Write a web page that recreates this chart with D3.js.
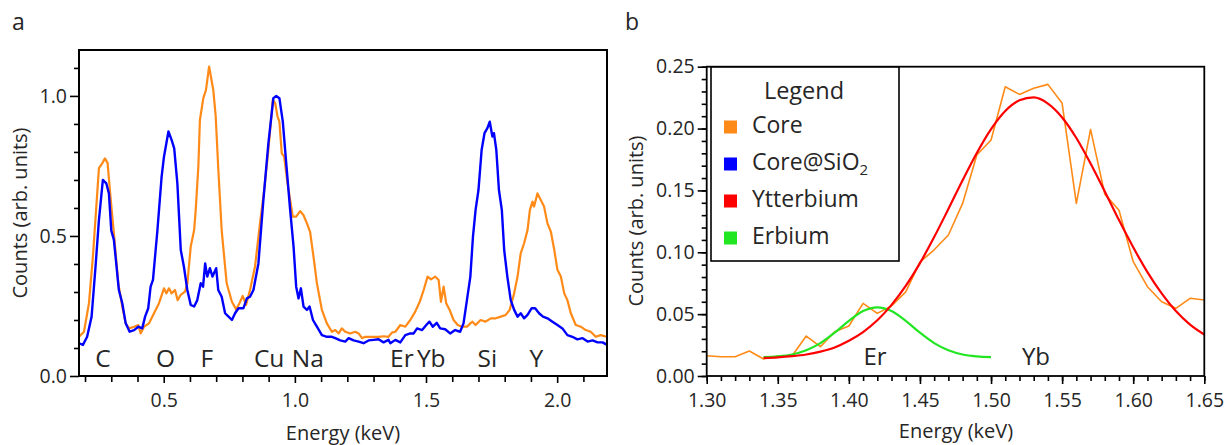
<!DOCTYPE html>
<html><head><meta charset="utf-8">
<script src="https://cdn.jsdelivr.net/npm/d3@7"></script>
<style>
body{margin:0;background:#fff}
svg{display:block}
text{font-family:"Open Sans",sans-serif;fill:#262626}
</style>
</head><body>
<svg id="chart" width="1229" height="445"></svg>
<script>
// ---------- Panel a data: [energy keV, counts] ----------
const coreA = [[0.177,0.14],[0.196,0.158],[0.215,0.26],[0.230,0.426],[0.243,0.605],[0.253,0.742],[0.266,0.76],[0.276,0.777],[0.286,0.76],[0.298,0.629],[0.31,0.51],[0.327,0.33],[0.342,0.248],[0.355,0.188],[0.368,0.17],[0.387,0.176],[0.403,0.182],[0.412,0.152],[0.425,0.176],[0.444,0.188],[0.463,0.224],[0.482,0.26],[0.501,0.313],[0.510,0.295],[0.520,0.313],[0.530,0.295],[0.543,0.307],[0.553,0.271],[0.565,0.29],[0.581,0.301],[0.590,0.33],[0.603,0.462],[0.616,0.521],[0.622,0.593],[0.632,0.748],[0.638,0.914],[0.651,0.992],[0.661,1.021],[0.673,1.105],[0.689,1.021],[0.698,0.93],[0.708,0.74],[0.721,0.52],[0.740,0.331],[0.760,0.265],[0.776,0.238],[0.789,0.26],[0.801,0.286],[0.814,0.254],[0.829,0.307],[0.848,0.39],[0.867,0.545],[0.883,0.664],[0.899,0.807],[0.916,0.986],[0.925,0.974],[0.934,0.926],[0.941,0.908],[0.950,0.795],[0.959,0.783],[0.972,0.688],[0.982,0.629],[0.992,0.569],[1.005,0.569],[1.020,0.589],[1.033,0.574],[1.046,0.545],[1.058,0.515],[1.071,0.426],[1.084,0.331],[1.103,0.236],[1.122,0.188],[1.141,0.158],[1.154,0.164],[1.167,0.152],[1.179,0.17],[1.192,0.158],[1.211,0.152],[1.230,0.158],[1.243,0.152],[1.256,0.135],[1.268,0.14],[1.294,0.14],[1.319,0.14],[1.338,0.142],[1.357,0.14],[1.370,0.155],[1.383,0.158],[1.402,0.182],[1.421,0.176],[1.440,0.2],[1.459,0.23],[1.476,0.265],[1.491,0.307],[1.506,0.355],[1.519,0.345],[1.535,0.355],[1.548,0.343],[1.557,0.265],[1.567,0.319],[1.577,0.26],[1.590,0.236],[1.605,0.2],[1.621,0.182],[1.637,0.176],[1.656,0.176],[1.669,0.188],[1.677,0.194],[1.689,0.182],[1.708,0.2],[1.727,0.194],[1.747,0.206],[1.766,0.206],[1.785,0.212],[1.804,0.218],[1.819,0.236],[1.836,0.295],[1.849,0.355],[1.861,0.438],[1.874,0.474],[1.887,0.521],[1.896,0.593],[1.906,0.623],[1.912,0.605],[1.925,0.652],[1.937,0.629],[1.950,0.605],[1.963,0.545],[1.976,0.515],[1.989,0.45],[2.001,0.379],[2.014,0.355],[2.027,0.295],[2.039,0.271],[2.052,0.224],[2.071,0.182],[2.090,0.176],[2.109,0.164],[2.128,0.158],[2.147,0.14],[2.166,0.146],[2.19,0.14]];
const shellA = [[0.177,0.117],[0.192,0.111],[0.208,0.14],[0.225,0.212],[0.240,0.39],[0.253,0.557],[0.268,0.70],[0.281,0.688],[0.291,0.652],[0.300,0.52],[0.31,0.486],[0.329,0.307],[0.342,0.26],[0.355,0.188],[0.370,0.158],[0.387,0.164],[0.403,0.176],[0.418,0.17],[0.429,0.212],[0.441,0.242],[0.450,0.319],[0.459,0.343],[0.476,0.521],[0.492,0.712],[0.501,0.783],[0.518,0.873],[0.530,0.843],[0.540,0.813],[0.552,0.688],[0.565,0.45],[0.577,0.39],[0.590,0.307],[0.603,0.254],[0.616,0.248],[0.628,0.271],[0.641,0.331],[0.650,0.319],[0.658,0.402],[0.666,0.355],[0.676,0.385],[0.686,0.355],[0.700,0.385],[0.708,0.307],[0.721,0.283],[0.734,0.224],[0.747,0.212],[0.760,0.2],[0.772,0.224],[0.785,0.242],[0.804,0.242],[0.817,0.277],[0.829,0.283],[0.842,0.307],[0.861,0.402],[0.880,0.629],[0.899,0.831],[0.918,0.992],[0.929,1.0],[0.941,0.992],[0.954,0.908],[0.967,0.76],[0.982,0.593],[0.995,0.462],[1.005,0.319],[1.014,0.277],[1.023,0.313],[1.033,0.248],[1.046,0.236],[1.056,0.248],[1.069,0.2],[1.084,0.176],[1.103,0.146],[1.122,0.14],[1.141,0.14],[1.154,0.135],[1.173,0.127],[1.192,0.123],[1.205,0.135],[1.224,0.127],[1.243,0.123],[1.262,0.117],[1.281,0.127],[1.300,0.129],[1.319,0.131],[1.338,0.12],[1.357,0.129],[1.364,0.117],[1.383,0.129],[1.402,0.12],[1.421,0.146],[1.440,0.152],[1.453,0.152],[1.466,0.17],[1.485,0.164],[1.501,0.182],[1.513,0.194],[1.526,0.176],[1.541,0.19],[1.554,0.17],[1.573,0.167],[1.592,0.152],[1.611,0.164],[1.630,0.158],[1.643,0.188],[1.656,0.271],[1.669,0.355],[1.679,0.498],[1.689,0.593],[1.700,0.664],[1.712,0.807],[1.723,0.867],[1.734,0.885],[1.743,0.908],[1.753,0.855],[1.759,0.867],[1.768,0.807],[1.778,0.664],[1.789,0.593],[1.798,0.45],[1.810,0.355],[1.823,0.271],[1.836,0.236],[1.849,0.212],[1.861,0.224],[1.874,0.206],[1.887,0.218],[1.903,0.242],[1.916,0.242],[1.931,0.224],[1.946,0.212],[1.963,0.206],[1.982,0.194],[2.001,0.182],[2.020,0.17],[2.039,0.146],[2.058,0.14],[2.077,0.131],[2.097,0.135],[2.116,0.123],[2.135,0.127],[2.154,0.12],[2.173,0.12],[2.19,0.111]];
const elementNamesA = ["C","O","F","Cu","Na","Er","Yb","Si","Y"];
const elementEnergyA = [0.268,0.507,0.664,0.902,1.049,1.408,1.520,1.734,1.921];
const xMajorA = [0.5,1.0,1.5,2.0];
const xMinorA = [0.2,0.3,0.4,0.6,0.7,0.8,0.9,1.1,1.2,1.3,1.4,1.6,1.7,1.8,1.9,2.1];
const yMajorA = [0.0,0.5,1.0];
const yMinorA = [0.1,0.2,0.3,0.4,0.6,0.7,0.8,0.9,1.1];

// ---------- Panel b data ----------
const energyB = [1.30,1.31,1.32,1.33,1.34,1.35,1.36,1.37,1.38,1.39,1.40,1.41,1.42,1.43,1.44,1.45,1.46,1.47,1.48,1.49,1.50,1.51,1.52,1.53,1.54,1.55,1.56,1.57,1.58,1.59,1.60,1.61,1.62,1.63,1.64,1.65];
const coreB = [0.0164,0.0156,0.0156,0.0202,0.0137,0.0162,0.0162,0.0323,0.0237,0.0358,0.0404,0.0587,0.0506,0.0566,0.068,0.092,0.102,0.114,0.1395,0.1786,0.1907,0.2338,0.2276,0.2325,0.2357,0.2204,0.1395,0.1993,0.147,0.134,0.0924,0.0722,0.060,0.0547,0.0628,0.0614];
const energyYb = [1.34,1.35,1.36,1.37,1.38,1.39,1.40,1.41,1.42,1.43,1.44,1.45,1.46,1.47,1.48,1.49,1.50,1.51,1.52,1.53,1.54,1.55,1.56,1.57,1.58,1.59,1.60,1.61,1.62,1.63,1.64,1.65];
const ytterbiumB = [0.0146,0.0151,0.0160,0.0174,0.0197,0.0231,0.0285,0.0355,0.0450,0.0575,0.0728,0.0912,0.1123,0.1350,0.1582,0.1802,0.1995,0.2142,0.2228,0.2252,0.2202,0.2090,0.1924,0.1718,0.1492,0.1260,0.1040,0.0840,0.0668,0.0525,0.0415,0.0335];
const energyEr = [1.34,1.35,1.36,1.37,1.38,1.39,1.40,1.41,1.42,1.43,1.44,1.45,1.46,1.47,1.48,1.49,1.50];
const erbiumB = [0.0153,0.0159,0.0174,0.0208,0.0266,0.0350,0.0446,0.0525,0.0555,0.0525,0.0446,0.0350,0.0266,0.0208,0.0174,0.0159,0.0153];
const peakNamesB = ["Er","Yb"];
const peakEnergyB = [1.4184,1.5316];
const xTicksB = [1.30,1.35,1.40,1.45,1.50,1.55,1.60,1.65];
const yTicksB = [0.00,0.05,0.10,0.15,0.20,0.25];
const legendNames = ["Core","Core@SiO","Ytterbium","Erbium"];
const colors = {core:"#ff8a17", shell:"#0000ff", yb:"#ff0000", er:"#22e622"};

const svg = d3.select("#chart");

// ================= Panel a =================
const xa = d3.scaleLinear().domain([0.177, 2.19]).range([79, 607]);
const ya = d3.scaleLinear().domain([0, 1.164]).range([376, 50]);
const ga = svg.append("g");

function minorTicks(g, axis){ g.call(axis); g.select(".domain").remove(); g.selectAll(".tick line").attr("stroke","#000").attr("stroke-width",1.6); }

ga.append("g").attr("transform","translate(0,376)")
  .call(g=>minorTicks(g, d3.axisBottom(xa).tickValues(xMinorA).tickSize(6).tickFormat("")));
ga.append("g").attr("transform","translate(0,376)")
  .call(g=>minorTicks(g, d3.axisBottom(xa).tickValues(xMajorA).tickSize(7).tickPadding(10).tickFormat(d3.format(".1f"))));
ga.append("g").attr("transform","translate(79,0)")
  .call(g=>minorTicks(g, d3.axisLeft(ya).tickValues(yMinorA).tickSize(5).tickFormat("")));
ga.append("g").attr("transform","translate(79,0)")
  .call(g=>minorTicks(g, d3.axisLeft(ya).tickValues(yMajorA).tickSize(9).tickPadding(3).tickFormat(d3.format(".1f"))));
ga.selectAll(".tick text").attr("font-size",19.5).attr("font-family","Open Sans").attr("fill","#262626");

const lineA = d3.line().x(d=>xa(d[0])).y(d=>ya(d[1]));
ga.append("path").datum(coreA).attr("d",lineA).attr("fill","none").attr("stroke",colors.core).attr("stroke-width",2.2).attr("stroke-linejoin","round");
ga.append("path").datum(shellA).attr("d",lineA).attr("fill","none").attr("stroke",colors.shell).attr("stroke-width",2.4).attr("stroke-linejoin","round");

ga.append("rect").attr("x",79).attr("y",50).attr("width",528).attr("height",326)
  .attr("fill","none").attr("stroke","#000").attr("stroke-width",2);

ga.selectAll(".elem").data(elementNamesA).enter().append("text")
  .attr("x",(d,i)=>xa(elementEnergyA[i])).attr("y",ya(0.032))
  .attr("text-anchor","middle").attr("font-size",24.5).attr("fill","#111").text(d=>d);

ga.append("text").attr("x",343).attr("y",440).attr("text-anchor","middle").attr("font-size",20).text("Energy (keV)");
ga.append("text").attr("transform","translate(27,213) rotate(-90)").attr("text-anchor","middle").attr("font-size",20).text("Counts (arb. units)");
svg.append("text").attr("x",12).attr("y",30).attr("font-size",23).attr("fill","#111").text("a");

// ================= Panel b =================
const xb = d3.scaleLinear().domain([1.30, 1.65]).range([706.7, 1204.3]);
const yb = d3.scaleLinear().domain([0, 0.25]).range([376, 66.7]);
const gb = svg.append("g");
const xMinorB = d3.range(130,166).map(v=>v/100);
const yMinorB = d3.range(0,26).map(v=>v/100);

gb.append("g").attr("transform","translate(0,376)")
  .call(g=>minorTicks(g, d3.axisBottom(xb).tickValues(xMinorB).tickSize(5).tickFormat("")));
gb.append("g").attr("transform","translate(0,376)")
  .call(g=>minorTicks(g, d3.axisBottom(xb).tickValues(xTicksB).tickSize(8).tickPadding(9).tickFormat(d3.format(".2f"))));
gb.append("g").attr("transform","translate(706.7,0)")
  .call(g=>minorTicks(g, d3.axisLeft(yb).tickValues(yMinorB).tickSize(5).tickFormat("")));
gb.append("g").attr("transform","translate(706.7,0)")
  .call(g=>minorTicks(g, d3.axisLeft(yb).tickValues(yTicksB).tickSize(9).tickPadding(3).tickFormat(d3.format(".2f"))));
gb.selectAll(".tick text").attr("font-size",19.5).attr("font-family","Open Sans").attr("fill","#262626");

const lineB = d3.line();
gb.append("path").attr("d",lineB(energyB.map((e,i)=>[xb(e),yb(coreB[i])])))
  .attr("fill","none").attr("stroke",colors.core).attr("stroke-width",1.6).attr("stroke-linejoin","round");
gb.append("path").attr("d",d3.line().curve(d3.curveMonotoneX)(energyEr.map((e,i)=>[xb(e),yb(erbiumB[i])])))
  .attr("fill","none").attr("stroke",colors.er).attr("stroke-width",2.2);
gb.append("path").attr("d",d3.line().curve(d3.curveMonotoneX)(energyYb.map((e,i)=>[xb(e),yb(ytterbiumB[i])])))
  .attr("fill","none").attr("stroke",colors.yb).attr("stroke-width",2.2);

gb.append("rect").attr("x",706.7).attr("y",66.7).attr("width",497.6).attr("height",309.3)
  .attr("fill","none").attr("stroke","#000").attr("stroke-width",1.8);

gb.selectAll(".peak").data(peakNamesB).enter().append("text")
  .attr("x",(d,i)=>xb(peakEnergyB[i])).attr("y",yb(0.0089))
  .attr("text-anchor","middle").attr("font-size",24).attr("fill","#111").text(d=>d);

// legend
const lg = gb.append("g");
lg.append("rect").attr("x",711).attr("y",67).attr("width",188).attr("height",194)
  .attr("fill","#fff").attr("stroke","#000").attr("stroke-width",1.6);
lg.append("text").attr("x",804).attr("y",99).attr("text-anchor","middle").attr("font-size",23.5).attr("fill","#111").text("Legend");
const legColors = [colors.core, colors.shell, colors.yb, colors.er];
legendNames.forEach((n,i)=>{
  const cy = 127 + i*37;
  lg.append("rect").attr("x",724).attr("y",cy-6.5).attr("width",13).attr("height",13).attr("fill",legColors[i]);
  const t = lg.append("text").attr("x",752).attr("y",cy+6).attr("font-size",23).attr("fill","#111").text(n);
  if(i===1){ t.append("tspan").attr("font-size",15).attr("dy",5).text("2"); }
});

gb.append("text").attr("x",956).attr("y",438).attr("text-anchor","middle").attr("font-size",20).text("Energy (keV)");
gb.append("text").attr("transform","translate(643,221) rotate(-90)").attr("text-anchor","middle").attr("font-size",20).text("Counts (arb. units)");
svg.append("text").attr("x",625).attr("y",30).attr("font-size",23).attr("fill","#111").text("b");
</script>
</body></html>
